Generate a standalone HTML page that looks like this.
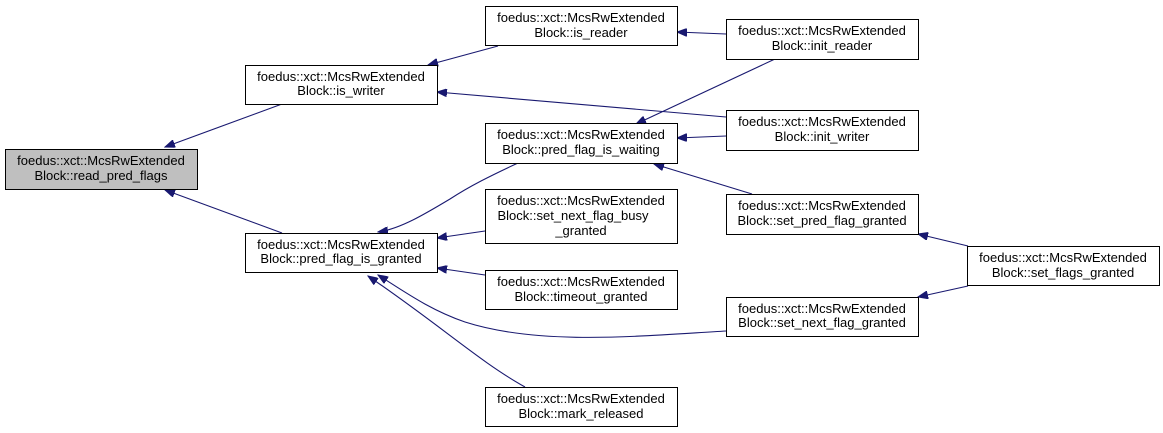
<!DOCTYPE html>
<html><head><meta charset="utf-8"><style>
html,body{margin:0;padding:0;background:#fff;width:1163px;height:433px;overflow:hidden}
svg{display:block}
text{font-family:"Liberation Sans",sans-serif;font-size:13px;fill:#000;text-anchor:middle}
rect{stroke:#000;stroke-width:1;fill:#fff}
path{fill:none;stroke:#191970;stroke-width:1.1}
</style></head><body>
<svg width="1163" height="433" viewBox="0 0 1163 433">
<defs><marker id="a" markerWidth="11" markerHeight="8" refX="10" refY="4" orient="auto" markerUnits="userSpaceOnUse"><path d="M0,0 L10,4 L0,8 Z" style="fill:#191970;stroke:#191970;stroke-width:1"/></marker></defs>
<path d="M282,104 L165,147" marker-end="url(#a)"/>
<path d="M282,233 L165,190" marker-end="url(#a)"/>
<path d="M498,46 L428,65" marker-end="url(#a)"/>
<path d="M726,117 L437,92" marker-end="url(#a)"/>
<path d="M775,59 L636,124" marker-end="url(#a)"/>
<path d="M726,136 L677,138" marker-end="url(#a)"/>
<path d="M726,34 L677,32" marker-end="url(#a)"/>
<path d="M752,194 L654,164" marker-end="url(#a)"/>
<path d="M518,163 C490,176 470,186 450,199 C425,214 400,229 378,232" marker-end="url(#a)"/>
<path d="M485,231 L437,238" marker-end="url(#a)"/>
<path d="M485,275 L437,268" marker-end="url(#a)"/>
<path d="M726,331 C640,336 540,346 465,322 C430,310 405,292 378,275" marker-end="url(#a)"/>
<path d="M525,387 C480,362 440,325 368,276" marker-end="url(#a)"/>
<path d="M968,246 L918,234" marker-end="url(#a)"/>
<path d="M968,286 L918,297" marker-end="url(#a)"/>
<rect x="5.5" y="149.5" width="192" height="40" style="fill:#bfbfbf"/>
<text x="101" y="165">foedus::xct::McsRwExtended</text><text x="101" y="180">Block::read_pred_flags</text>
<rect x="245.5" y="65.5" width="192" height="39"/>
<text x="341" y="81">foedus::xct::McsRwExtended</text><text x="341" y="95">Block::is_writer</text>
<rect x="245.5" y="233.5" width="192" height="39"/>
<text x="341" y="249">foedus::xct::McsRwExtended</text><text x="341" y="263">Block::pred_flag_is_granted</text>
<rect x="485.5" y="6.5" width="192" height="39"/>
<text x="581" y="22">foedus::xct::McsRwExtended</text><text x="581" y="37">Block::is_reader</text>
<rect x="485.5" y="123.5" width="192" height="40"/>
<text x="581" y="139">foedus::xct::McsRwExtended</text><text x="581" y="154">Block::pred_flag_is_waiting</text>
<rect x="485.5" y="189.5" width="192" height="54"/>
<text x="581" y="205">foedus::xct::McsRwExtended</text><text x="573" y="220">Block::set_next_flag_busy</text><text x="581" y="235">_granted</text>
<rect x="485.5" y="270.5" width="192" height="39"/>
<text x="581" y="286">foedus::xct::McsRwExtended</text><text x="581" y="301">Block::timeout_granted</text>
<rect x="485.5" y="387.5" width="192" height="39"/>
<text x="581" y="403">foedus::xct::McsRwExtended</text><text x="581" y="418">Block::mark_released</text>
<rect x="726.5" y="19.5" width="192" height="40"/>
<text x="822" y="35">foedus::xct::McsRwExtended</text><text x="822" y="50">Block::init_reader</text>
<rect x="726.5" y="110.5" width="192" height="40"/>
<text x="822" y="126">foedus::xct::McsRwExtended</text><text x="822" y="141">Block::init_writer</text>
<rect x="726.5" y="194.5" width="192" height="40"/>
<text x="822" y="210">foedus::xct::McsRwExtended</text><text x="822" y="225">Block::set_pred_flag_granted</text>
<rect x="726.5" y="297.5" width="192" height="39"/>
<text x="822" y="313">foedus::xct::McsRwExtended</text><text x="822" y="327">Block::set_next_flag_granted</text>
<rect x="967.5" y="246.5" width="192" height="39"/>
<text x="1063" y="262">foedus::xct::McsRwExtended</text><text x="1063" y="277">Block::set_flags_granted</text>
</svg>
</body></html>
